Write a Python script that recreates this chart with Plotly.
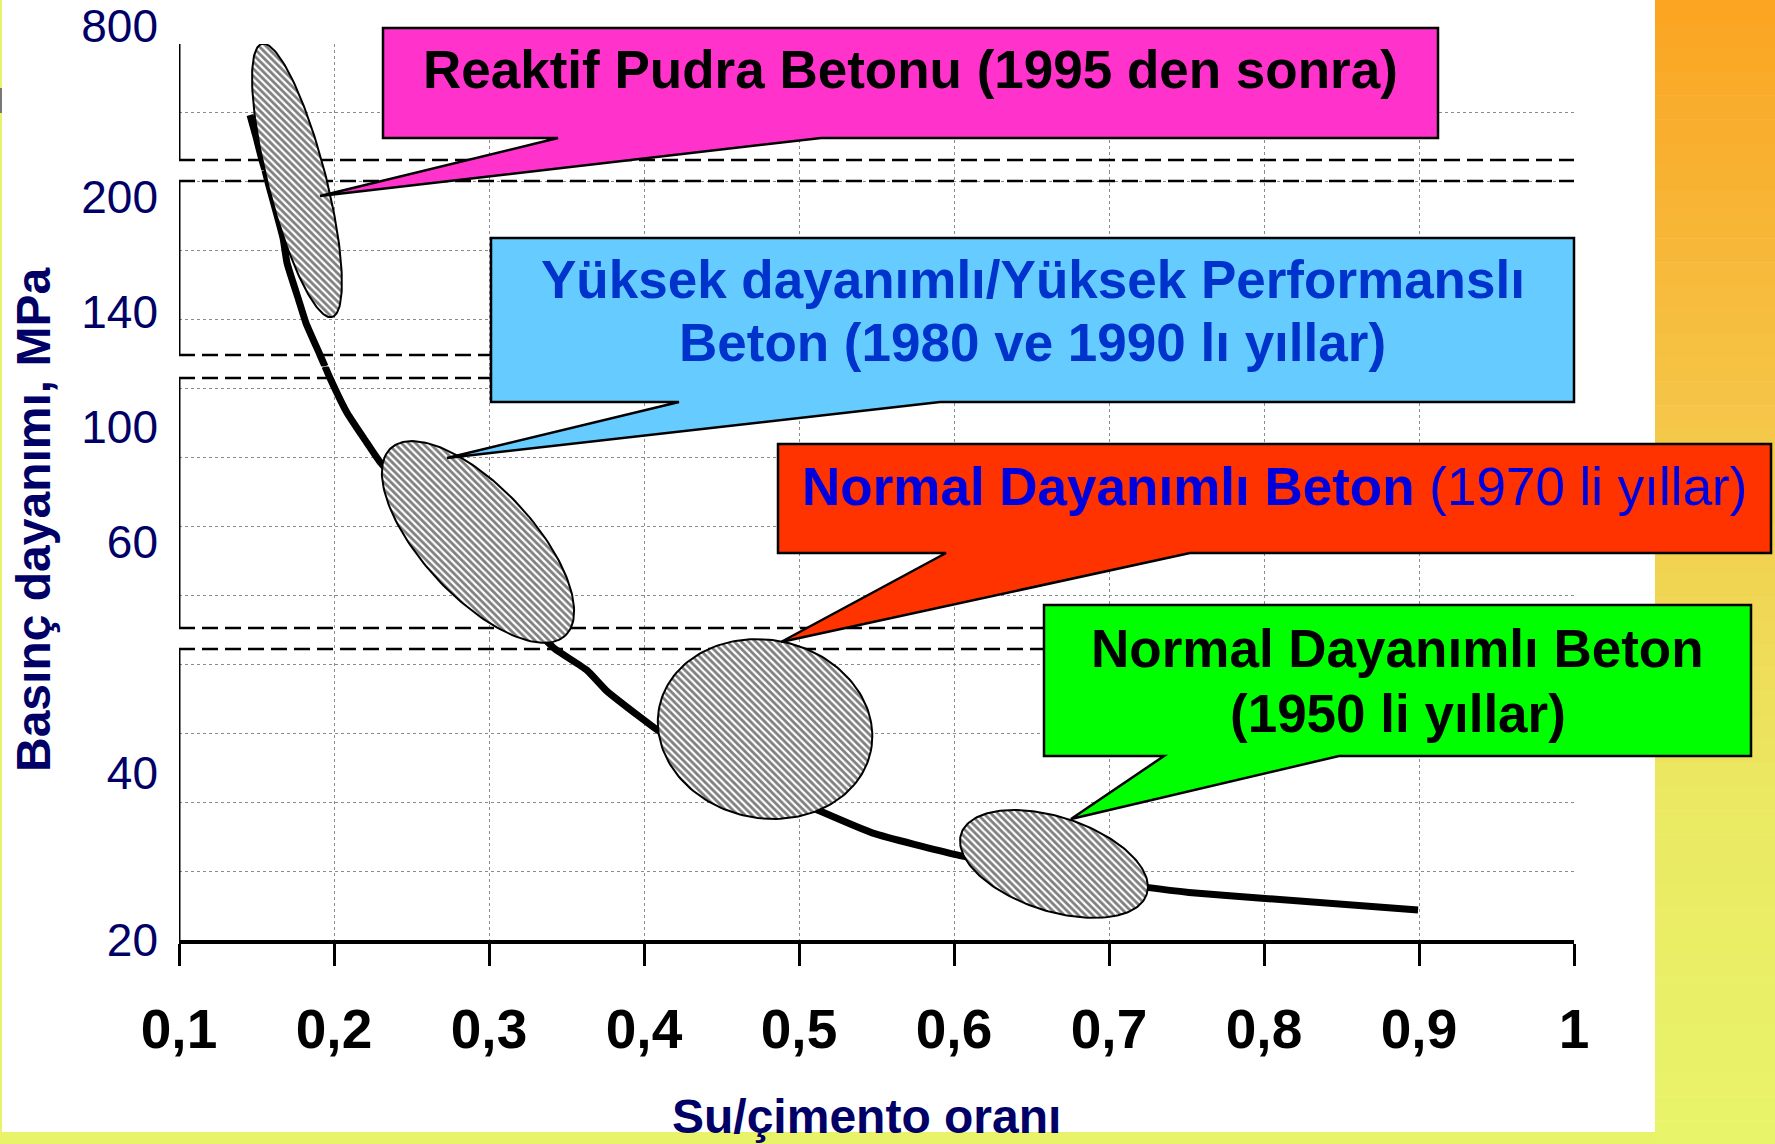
import numpy as np
import plotly.graph_objects as go

# ---------------- data ----------------
x_tick_vals = [0.1, 0.2, 0.3, 0.4, 0.5, 0.6, 0.7, 0.8, 0.9, 1.0]
x_tick_labels = ["0,1", "0,2", "0,3", "0,4", "0,5", "0,6", "0,7", "0,8", "0,9", "1"]

# broken y axis: four panels, bottom to top (values in MPa)
y_ticks_A = [20, 40]
y_ticks_B = [60, 100]
y_ticks_C = [140, 200]
y_ticks_D = [800]

# strength curve read panel by panel (w/c ratio, MPa)
wc_A = [0.3355, 0.3426, 0.3632, 0.3755, 0.3974, 0.409, 0.436, 0.4748, 0.5116,
        0.5477, 0.6019, 0.662, 0.7245, 0.7516, 0.7987, 0.8994]
mpa_A = [56.1, 54.85, 52.3, 49.9, 46.7, 45.1, 42.2, 38.6, 35.6,
         32.8, 30.2, 28.0, 26.3, 25.7, 25.0, 23.6]
wc_B = [0.1942, 0.1974, 0.2084, 0.2213, 0.2297, 0.2555, 0.2877, 0.32, 0.3284, 0.3355]
mpa_B = [121.0, 117.0, 104.9, 94.4, 87.8, 72.9, 52.0, 34.6, 30.1, 26.4]
wc_C = [0.1555, 0.1572, 0.1671, 0.1697, 0.1772, 0.1819, 0.191, 0.1942]
mpa_C = [213.8, 208.3, 178.6, 165.6, 146.3, 134.3, 117.6, 111.6]
wc_D = [0.1458, 0.1497, 0.1535, 0.1555]
mpa_D = [438, 326, 208.3, 154.7]

# highlighted zones (ellipses): centre w/c, centre in grid rows, semi-axes, tilt
zone_wc = [0.1761, 0.2929, 0.4781, 0.6645]
zone_row = [11.02, 5.775, 3.061, 1.103]
zone_a = [141, 128, 108, 97.6]
zone_b = [29, 55, 89, 47]
zone_tilt = [75.6, 47, 12, 18]

callout_lines = [
    ["Reaktif Pudra Betonu (1995 den sonra)"],
    ["Yüksek dayanımlı/Yüksek Performanslı", "Beton (1980 ve 1990 lı yıllar)"],
    ["<b>Normal Dayanımlı Beton</b> (1970 li yıllar)"],
    ["Normal Dayanımlı Beton", "(1950 li yıllar)"],
]
callout_fill = ["#ff33cc", "#66ccff", "#ff3300", "#00ff00"]
callout_text_color = ["#000000", "#0033cc", "#0000dd", "#000000"]
callout_bold = [True, True, False, True]

# ---------------- geometry (pixels of the 1775x1144 page) ----------------
FW, FH = 1775, 1144
L, T, RX, BY = 179, 44, 1574, 940
PW, PH = RX - L, BY - T


def px_x(p):
    return (p - L) / PW


def px_y(p):
    return (BY - p) / PH


FONT = "Liberation Sans, Arial, sans-serif"
NAVY = "#000066"
GRID = "#8c8c8c"

# panels: proper pixel extent (top, bottom), values at bottom/top, extended extents
seg_axes = ["y", "y2", "y3", "y4"]
seg_px = [(649, 940), (378, 628), (181, 355), (44, 160)]
seg_val = [(20, 54.85), (30.1, 117.0), (117.6, 208.3), (208.3, 800)]
seg_ext = [(638.5, 940), (366.5, 638.5), (170.5, 366.5), (44, 170.5)]
seg_ticks = [y_ticks_A, y_ticks_B, y_ticks_C, y_ticks_D]
seg_shift = [0, 0, 0, -18]
seg_wc = [wc_A, wc_B, wc_C, wc_D]
seg_mpa = [mpa_A, mpa_B, mpa_C, mpa_D]

rows_px = [BY - k * PH / 13 for k in range(14)]

fig = go.Figure()

layout_axes = {}
for i, yid in enumerate(seg_axes):
    top, bot = seg_px[i]
    lo, hi = seg_val[i]
    per_px = (hi - lo) / (bot - top)

    def val(p, bot=bot, lo=lo, per_px=per_px):
        return lo + (bot - p) * per_px

    et, eb = seg_ext[i]
    grid_vals = [val(p) for p in rows_px if top - 0.6 <= p <= bot + 0.6]
    name = "yaxis" if i == 0 else "yaxis%d" % (i + 1)
    layout_axes[name] = dict(
        domain=[px_y(eb), px_y(et)],
        range=[val(eb), val(et)],
        anchor="x",
        automargin=False,
        tickmode="array",
        tickvals=seg_ticks[i],
        ticktext=[str(v) for v in seg_ticks[i]],
        showgrid=(i == 3),
        gridcolor=GRID, griddash="dot", gridwidth=1,
        showline=False, zeroline=False, ticks="",
        tickfont=dict(family=FONT, size=46, color=NAVY),
        ticklabelstandoff=20,
        ticklabelshift=seg_shift[i],
        ticklabeloverflow="allow",
        minor=dict(tickmode="array", tickvals=grid_vals, showgrid=True,
                   gridcolor=GRID, griddash="dot", gridwidth=1, ticks=""),
        fixedrange=True,
    )
    fig.add_trace(go.Scatter(
        x=seg_wc[i], y=seg_mpa[i], mode="lines", xaxis="x", yaxis=yid,
        line=dict(color="black", width=7, shape="spline", smoothing=0.5),
        showlegend=False, hoverinfo="skip"))

# ellipse zones on an overlay pair of axes spanning the whole plot
x_per = PW / (x_tick_vals[-1] - x_tick_vals[0])
y_per = PH / 13.0
tt = np.linspace(0, 2 * np.pi, 181)
for cx, cy, a, b, th in zip(zone_wc, zone_row, zone_a, zone_b, zone_tilt):
    r = np.radians(th)
    dx = a * np.cos(tt) * np.cos(r) - b * np.sin(tt) * np.sin(r)
    dy = a * np.cos(tt) * np.sin(r) + b * np.sin(tt) * np.cos(r)
    fig.add_trace(go.Scatter(
        x=cx + dx / x_per, y=cy - dy / y_per, mode="lines", xaxis="x2", yaxis="y5",
        fill="toself", fillcolor="white",
        fillpattern=dict(shape="\\", fgcolor="black", bgcolor="white", size=5, solidity=0.55),
        line=dict(color="black", width=2), showlegend=False, hoverinfo="skip"))

shapes = []
# page decorations: right gradient band, bottom band, left strip
stops_y = [0, 400, 800, 1144]
stops_c = [(251, 164, 34), (245, 196, 70), (235, 233, 98), (232, 244, 106)]
n_strips = 48
for k in range(n_strips):
    y0 = FH * k / n_strips
    y1 = FH * (k + 1) / n_strips
    ym = (y0 + y1) / 2
    c = [int(round(np.interp(ym, stops_y, [s[j] for s in stops_c]))) for j in range(3)]
    shapes.append(dict(type="rect", xref="paper", yref="paper", layer="below",
                       x0=px_x(1655), x1=px_x(FW), y0=px_y(y1 + 0.5), y1=px_y(y0),
                       fillcolor="rgb(%d,%d,%d)" % tuple(c), line=dict(width=0)))
shapes.append(dict(type="rect", xref="paper", yref="paper", layer="below",
                   x0=px_x(0), x1=px_x(1655.5), y0=px_y(FH), y1=px_y(1132),
                   fillcolor="#e8f369", line=dict(width=0)))
shapes.append(dict(type="rect", xref="paper", yref="paper", layer="below",
                   x0=px_x(0), x1=px_x(2), y0=px_y(FH), y1=px_y(0),
                   fillcolor="#e8f369", line=dict(width=0)))
shapes.append(dict(type="rect", xref="paper", yref="paper", layer="below",
                   x0=px_x(0), x1=px_x(2), y0=px_y(113), y1=px_y(88),
                   fillcolor="#777777", line=dict(width=0)))

# left axis line pieces and dashed break lines
for i, yid in enumerate(seg_axes):
    lo, hi = seg_val[i]
    shapes.append(dict(type="line", xref="x", yref=yid, layer="between",
                       x0=x_tick_vals[0], x1=x_tick_vals[0], y0=lo, y1=hi,
                       line=dict(color="black", width=3)))
    if i < 3:
        shapes.append(dict(type="line", xref="x", yref=yid, layer="between",
                           x0=x_tick_vals[0], x1=x_tick_vals[-1], y0=hi, y1=hi,
                           line=dict(color="black", width=2.5, dash="16px,7px")))
    if i > 0:
        shapes.append(dict(type="line", xref="x", yref=yid, layer="between",
                           x0=x_tick_vals[0], x1=x_tick_vals[-1], y0=lo, y1=lo,
                           line=dict(color="black", width=2.5, dash="16px,7px")))

# speech-bubble callouts (page pixels: box, pointer base, pointer tip)
callout_box = [(383, 28, 1438, 138), (491, 238, 1574, 402),
               (778, 444, 1771, 553), (1044, 605, 1751, 756)]
callout_base = [(558, 821), (679, 940), (946, 1190), (1164, 1339)]
callout_tip = [(320, 196), (447, 458), (781, 642), (1071, 819)]
callout_text_y = [[70], [279, 343], [486], [648, 713]]

annotations = []
for i in range(4):
    x0, y0, x1, y1 = callout_box[i]
    b0, b1 = callout_base[i]
    tx, ty = callout_tip[i]
    pts = [(x0, y0), (x1, y0), (x1, y1), (b1, y1), (tx, ty), (b0, y1), (x0, y1)]
    path = "M " + " L ".join("%.5f,%.5f" % (px_x(p), px_y(q)) for p, q in pts) + " Z"
    shapes.append(dict(type="path", xref="paper", yref="paper", layer="above",
                       path=path, fillcolor=callout_fill[i],
                       line=dict(color="black", width=2.5)))
    cxm = (x0 + x1) / 2
    for line_txt, yy in zip(callout_lines[i], callout_text_y[i]):
        annotations.append(dict(
            x=px_x(cxm), y=px_y(yy), xref="paper", yref="paper", showarrow=False,
            xanchor="center", yanchor="middle", text=line_txt,
            font=dict(family=FONT, size=53, color=callout_text_color[i],
                      weight="bold" if callout_bold[i] else "normal")))

annotations.append(dict(
    x=px_x(33), y=px_y(520), xref="paper", yref="paper", showarrow=False,
    textangle=-90, xanchor="center", yanchor="middle",
    text="Basınç dayanımı, MPa",
    font=dict(family=FONT, size=48, color=NAVY, weight="bold")))
annotations.append(dict(
    x=px_x(866), y=px_y(1116), xref="paper", yref="paper", showarrow=False,
    xanchor="center", yanchor="middle", text="Su/çimento oranı",
    font=dict(family=FONT, size=48, color=NAVY, weight="bold")))

fig.update_layout(
    width=FW, height=FH,
    margin=dict(l=L, r=FW - RX, t=T, b=FH - BY, pad=0, autoexpand=False),
    paper_bgcolor="white", plot_bgcolor="rgba(0,0,0,0)",
    showlegend=False,
    xaxis=dict(
        domain=[0, 1], range=[x_tick_vals[0], x_tick_vals[-1]], anchor="y",
        automargin=False,
        tickmode="array", tickvals=x_tick_vals, ticktext=x_tick_labels,
        showgrid=True, gridcolor=GRID, griddash="dot", gridwidth=1,
        showline=True, linecolor="black", linewidth=4, zeroline=False,
        ticks="outside", ticklen=22, tickwidth=3, tickcolor="black",
        tickfont=dict(family="Liberation Sans Narrow, Arial Narrow, Liberation Sans, Arial",
                      size=55, color="black", weight="bold"),
        ticklabelstandoff=16, fixedrange=True),
    xaxis2=dict(domain=[0, 1], range=[x_tick_vals[0], x_tick_vals[-1]], anchor="y5",
                visible=False, fixedrange=True, automargin=False),
    yaxis5=dict(domain=[0, 1], range=[0, 13], anchor="x2", visible=False,
                fixedrange=True, automargin=False),
    shapes=shapes,
    annotations=annotations,
    **layout_axes,
)

fig.write_html("out.html", config={"displayModeBar": False},
               post_script="document.body.style.margin='0px';")
